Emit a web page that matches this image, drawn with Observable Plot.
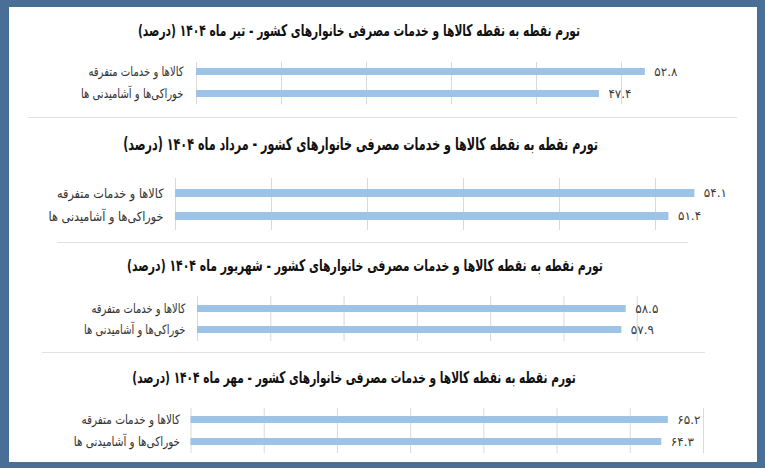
<!DOCTYPE html>
<html><head><meta charset="utf-8">
<script src="https://cdn.jsdelivr.net/npm/d3@7"></script>
<script src="https://cdn.jsdelivr.net/npm/@observablehq/plot@0.6"></script>
<style>
html,body{margin:0;padding:0;background:#4a6f97;}
#frame{position:relative;width:765px;height:468px;background:#4a6f97;overflow:hidden;font-family:"DejaVu Sans",sans-serif;}
#inner{position:absolute;left:9px;top:7px;width:748px;height:455px;background:#fff;}
.title{position:absolute;width:700px;text-align:center;font-weight:bold;color:#111;white-space:nowrap;transform-origin:50% 50%;}
.sep{position:absolute;height:1px;background:#e2e2e2;}
.panel{position:absolute;left:0;}
</style></head>
<body>
<div id="frame"><div id="inner"></div></div>
<script>
// ---- data ----
const categories = ["کالاها و خدمات متفرقه", "خوراکی‌ها و آشامیدنی ها"];
const months = ["تیر", "مرداد", "شهریور", "مهر"];
const miscValues = [52.8, 54.1, 58.5, 65.2];
const foodValues = [47.4, 51.4, 57.9, 64.3];
const yearLabel = "۱۴۰۴";
const gridMax = [50, 50, 60, 70];

// ---- layout ----
const layout = [
  {gridTop: 62, gridBottom: 104, step: 22.5, bw: 7.5, x0: 196, xMax: 60, right: 706, pad: 13, labelScale: 0.775, titleY: 31, titleX: 359, titleSize: 16, titleScale: 0.669},
  {gridTop: 178, gridBottom: 230, step: 23.5, bw: 8, x0: 175, xMax: 60, right: 751, pad: 12, labelScale: 0.868, titleY: 145, titleX: 368, titleSize: 17, titleScale: 0.657},
  {gridTop: 296, gridBottom: 341, step: 21.7, bw: 7, x0: 197, xMax: 70, right: 710, pad: 12, labelScale: 0.766, titleY: 266, titleX: 365, titleSize: 16, titleScale: 0.68},
  {gridTop: 408, gridBottom: 453, step: 22.5, bw: 7.5, x0: 190.5, xMax: 70, right: 703, pad: 11, labelScale: 0.803, titleY: 378, titleX: 354, titleSize: 16, titleScale: 0.663}
];
const seps = [{y: 117, x1: 28, x2: 737}, {y: 242, x1: 57, x2: 688}, {y: 352, x1: 42, x2: 705}];

const fa = s => String(s).replace(/\d/g, c => "۰۱۲۳۴۵۶۷۸۹"[+c]);
const frame = document.getElementById("frame");

seps.forEach(s => {
  const d = document.createElement("div");
  d.className = "sep";
  d.style.left = s.x1 + "px"; d.style.top = s.y + "px"; d.style.width = (s.x2 - s.x1) + "px";
  frame.appendChild(d);
});

months.forEach((m, i) => {
  const L = layout[i];
  const t = document.createElement("div");
  t.className = "title";
  t.dir = "rtl";
  t.style.fontSize = L.titleSize + "px";
  t.style.left = (L.titleX - 350) + "px";
  t.style.top = (L.titleY - L.titleSize * 0.75) + "px";
  t.style.lineHeight = (L.titleSize * 1.5) + "px";
  t.style.transform = `scaleX(${L.titleScale})`;
  t.textContent = `تورم نقطه به نقطه کالاها و خدمات مصرفی خانوارهای کشور - ${m} ماه ${yearLabel} (درصد)`;
  frame.appendChild(t);

  const rows = categories.map((c, j) => ({cat: c, value: j === 0 ? miscValues[i] : foodValues[i]}));
  const top = L.gridTop - 15;
  const h = (L.gridBottom - L.gridTop) + 30;
  const range = L.gridBottom - L.gridTop;
  const pi = 1 - L.bw / L.step;
  const po = (range / L.step - 2 + pi) / 2;
  const chart = Plot.plot({
    width: 765,
    height: h,
    marginTop: 15,
    marginBottom: 15,
    marginLeft: L.x0,
    marginRight: 765 - L.right,
    style: {background: "transparent", fontFamily: "DejaVu Sans", overflow: "visible"},
    x: {domain: [0, L.xMax], axis: null},
    y: {domain: categories, paddingInner: pi, paddingOuter: po, axis: null},
    marks: [
      Plot.ruleX(d3.range(0, gridMax[i] + 1, 10), {stroke: "#d9d9d9", strokeWidth: 1}),
      Plot.barX(rows, {x: "value", y: "cat", fill: "#9dc3e6"}),
      Plot.text(rows, {x: "value", y: "cat", text: d => fa(d.value.toFixed(1)), textAnchor: "start", dx: 9, fontSize: 12, fill: "#3a3a3a"}),
      Plot.axisY({anchor: "left", tickSize: 0, tickPadding: L.pad, fontSize: 13, color: "#333", label: null})
    ]
  });
  chart.querySelectorAll('g[aria-label="y-axis tick label"] text').forEach(el => {
    const tr = el.getAttribute("transform") || "";
    el.setAttribute("transform", tr + ` scale(${L.labelScale},1)`);
  });
  const wrap = document.createElement("div");
  wrap.className = "panel";
  wrap.style.top = top + "px";
  wrap.appendChild(chart);
  frame.appendChild(wrap);
});
</script>
</body></html>
